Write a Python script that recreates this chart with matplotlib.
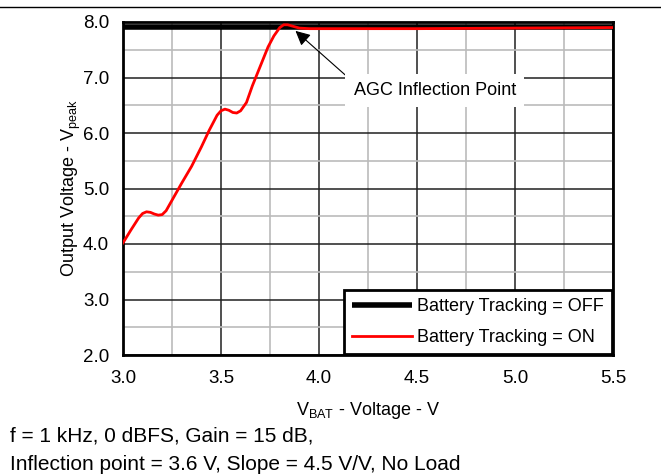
import matplotlib.pyplot as plt
from matplotlib.lines import Line2D
import numpy as np

plt.rcParams['font.family'] = ['Liberation Sans', 'DejaVu Sans']
plt.rcParams['font.size'] = 13
plt.rcParams['mathtext.fontset'] = 'custom'
plt.rcParams['mathtext.rm'] = 'Liberation Sans'
plt.rcParams['mathtext.default'] = 'rm'

# battery tracking OFF: flat output
vbat_off = [3.0, 5.5]
vout_off = [7.91, 7.91]

# battery tracking ON
vbat_on = [3.00, 3.04, 3.08, 3.10, 3.12, 3.14, 3.16, 3.18, 3.20, 3.22, 3.26,
           3.30, 3.35, 3.40, 3.44, 3.48, 3.50, 3.52, 3.54, 3.56, 3.58, 3.60,
           3.63, 3.66, 3.70, 3.74, 3.77, 3.80, 3.82, 3.84, 3.87, 3.90, 3.95,
           4.00, 4.50, 5.00, 5.50]
vout_on = [4.02, 4.25, 4.47, 4.55, 4.58, 4.57, 4.54, 4.52, 4.53, 4.60, 4.85,
           5.10, 5.40, 5.75, 6.05, 6.32, 6.40, 6.43, 6.41, 6.37, 6.36, 6.40,
           6.55, 6.85, 7.20, 7.55, 7.75, 7.90, 7.95, 7.95, 7.92, 7.89, 7.88,
           7.88, 7.88, 7.89, 7.90]

xticks = [3.0, 3.5, 4.0, 4.5, 5.0, 5.5]
yticks = [2.0, 3.0, 4.0, 5.0, 6.0, 7.0, 8.0]

fig = plt.figure(figsize=(6.61, 4.76), dpi=100)
ax = fig.add_axes([123/661, 1-355/476, (613-123)/661, (355-22)/476])

ax.set_xlim(3.0, 5.5)
ax.set_ylim(2.0, 8.0)
ax.set_xticks(xticks)
ax.set_yticks(yticks)
ax.set_xticklabels([f'{v:.1f}' for v in xticks])
ax.set_yticklabels([f'{v:.1f}' for v in yticks])
ax.set_xticks(np.arange(3.25, 5.5, 0.5), minor=True)
ax.set_yticks(np.arange(2.5, 8.0, 1.0), minor=True)
ax.tick_params(which='both', length=0, labelsize=13.5)
ax.tick_params(axis='x', pad=11)
ax.tick_params(axis='y', pad=10)
ax.grid(True, which='major', color='#202020', linewidth=1.1)
ax.grid(True, which='minor', color='#bbbbbb', linewidth=1.2)
ax.set_axisbelow(True)
for s in ax.spines.values():
    s.set_linewidth(2)
    s.set_color('black')

ax.plot(vbat_off, vout_off, color='black', linewidth=4, label='Battery Tracking = OFF',
        solid_capstyle='butt', zorder=3)
ax.plot(vbat_on, vout_on, color='#ff0000', linewidth=2, label='Battery Tracking = ON',
        zorder=4)

ax.annotate('AGC Inflection Point', xy=(3.88, 7.84), xytext=(4.59, 6.76),
            ha='center', va='center',
            bbox=dict(boxstyle='square,pad=0.45', fc='white', ec='none'),
            arrowprops=dict(arrowstyle='-|>', color='black', lw=0.8,
                            mutation_scale=22, shrinkA=0, shrinkB=0,
                            relpos=(0.0, 1.0)),
            zorder=5)

leg = ax.legend(loc='lower right', frameon=True, fancybox=False, framealpha=1,
                edgecolor='black', borderaxespad=0.05, handlelength=3.3,
                handletextpad=0.3, labelspacing=0.75, borderpad=0.45)
leg.get_frame().set_linewidth(2)

ax.set_xlabel('V$_{BAT}$ - Voltage - V', labelpad=9)
ax.set_ylabel('Output Voltage - V$_{peak}$', labelpad=0)

fig.add_artist(Line2D([0, 1], [1-7/476, 1-7/476], color='black', linewidth=1))
fig.text(10/661, 1-436/476, 'f = 1 kHz, 0 dBFS, Gain = 15 dB,', va='center', ha='left',
         fontsize=15)
fig.text(10/661, 1-465/476, 'Inflection point = 3.6 V, Slope = 4.5 V/V, No Load',
         va='center', ha='left', fontsize=15)

fig.savefig('out.png', dpi=100)
